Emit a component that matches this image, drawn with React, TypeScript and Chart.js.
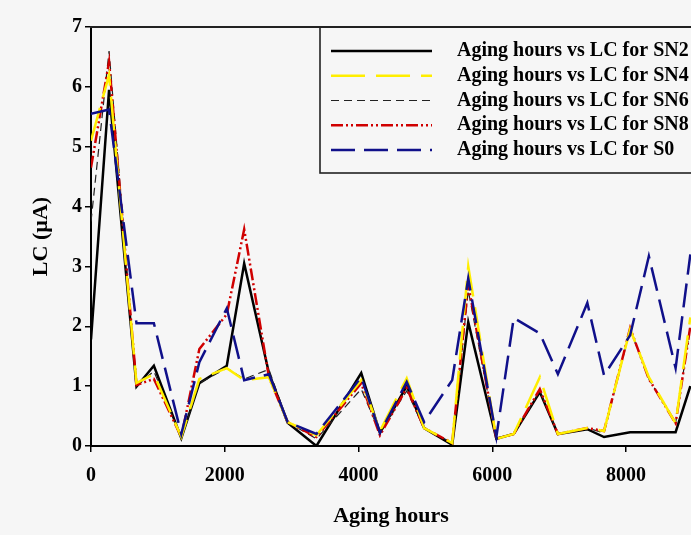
import React, { useEffect, useRef } from 'react';
import { Chart, registerables } from 'chart.js';

Chart.register(...registerables);

// ---- data ----
const hours = [0, 270, 680, 940, 1350, 1620, 2030, 2290, 2660, 2940, 3370, 4040, 4320, 4720, 4980, 5400, 5640, 6060, 6320, 6710, 6980, 7420, 7670, 8060, 8340, 8740, 8960];

const sn2 = [1.78, 5.95, 0.99, 1.34, 0.13, 1.05, 1.34, 3.05, 1.22, 0.39, 0.0, 1.22, 0.22, 1.0, 0.3, 0.02, 2.07, 0.12, 0.2, 0.9, 0.2, 0.28, 0.15, 0.23, 0.23, 0.23, 1.0];
const sn4 = [5.1, 6.2, 1.05, 1.2, 0.15, 1.12, 1.3, 1.1, 1.15, 0.4, 0.18, 1.1, 0.25, 1.13, 0.3, 0.05, 3.0, 0.12, 0.2, 1.15, 0.2, 0.3, 0.25, 1.95, 1.15, 0.38, 2.15];
const sn6 = [3.75, 6.6, 1.0, 1.25, 0.13, 1.05, 1.3, 1.12, 1.28, 0.4, 0.12, 0.95, 0.22, 0.92, 0.3, 0.05, 2.6, 0.12, 0.2, 0.92, 0.2, 0.3, 0.22, 1.95, 1.12, 0.38, 2.0];
const sn8 = [4.65, 6.42, 1.02, 1.12, 0.15, 1.62, 2.2, 3.62, 1.15, 0.4, 0.15, 1.05, 0.18, 0.97, 0.3, 0.05, 2.7, 0.12, 0.2, 0.95, 0.2, 0.3, 0.25, 1.97, 1.12, 0.38, 2.0];
const s0 = [5.55, 5.62, 2.05, 2.05, 0.2, 1.4, 2.3, 1.1, 1.2, 0.4, 0.2, 1.15, 0.22, 1.07, 0.4, 1.1, 2.8, 0.15, 2.14, 1.88, 1.2, 2.39, 1.18, 1.85, 3.17, 1.3, 3.2];

const seriesLabels = [
  'Aging hours vs LC for SN2',
  'Aging hours vs LC for SN4',
  'Aging hours vs LC for SN6',
  'Aging hours vs LC for SN8',
  'Aging hours vs LC for S0',
];

const xTicks = [0, 2000, 4000, 6000, 8000];
const yTicks = [0, 1, 2, 3, 4, 5, 6, 7];
const xTitle = 'Aging hours';
const yTitle = 'LC (µA)';

const FONT = '"Liberation Serif", "Times New Roman", serif';

const styles = [
  { color: '#000000', width: 2.5, dash: [] as number[], order: 4 },
  { color: '#ffee00', width: 2.5, dash: [34, 11], order: 1 },
  { color: '#222222', width: 1.2, dash: [8, 5], order: 3 },
  { color: '#d00000', width: 2.5, dash: [12, 3, 2, 3, 2, 3], order: 2 },
  { color: '#10108a', width: 2.5, dash: [24, 9], order: 0 },
];

const seriesValues = [sn2, sn4, sn6, sn8, s0];

const legendBoxPlugin = {
  id: 'legendBox',
  afterDraw(chart: any) {
    const { ctx, chartArea } = chart;
    ctx.save();
    // top frame line
    ctx.strokeStyle = '#222';
    ctx.lineWidth = 2;
    ctx.setLineDash([]);
    ctx.beginPath();
    ctx.moveTo(chartArea.left - 1, chartArea.top);
    ctx.lineTo(chartArea.right + 2, chartArea.top);
    ctx.stroke();

    // legend box
    const bx = 320;
    const by = chartArea.top;
    const bh = 146;
    ctx.lineWidth = 1.6;
    ctx.strokeStyle = '#222';
    ctx.strokeRect(bx, by, chart.width - bx + 5, bh);

    const rowH = 24.75;
    chart.data.datasets.forEach((ds: any, i: number) => {
      const y = by + 24 + i * rowH;
      ctx.strokeStyle = ds.borderColor;
      ctx.lineWidth = ds.borderWidth;
      ctx.setLineDash(ds.borderDash || []);
      ctx.beginPath();
      ctx.moveTo(331, y);
      ctx.lineTo(432, y);
      ctx.stroke();
      ctx.setLineDash([]);
      ctx.fillStyle = '#000';
      ctx.font = `bold 20px ${FONT}`;
      ctx.textBaseline = 'middle';
      ctx.textAlign = 'left';
      ctx.fillText(ds.label, 457, y);
    });
    ctx.restore();
  },
};

export default function App() {
  const ref = useRef<HTMLCanvasElement | null>(null);

  useEffect(() => {
    document.body.style.margin = '0';
    document.body.style.background = '#f6f6f6';
    const canvas = ref.current;
    if (!canvas) return;

    const datasets = seriesValues.map((vals, i) => ({
      label: seriesLabels[i],
      data: hours.map((h, j) => ({ x: h, y: vals[j] })),
      borderColor: styles[i].color,
      backgroundColor: styles[i].color,
      borderWidth: styles[i].width,
      borderDash: styles[i].dash,
      order: styles[i].order,
      pointRadius: 0,
      tension: 0,
      fill: false,
    }));

    const chart = new Chart(canvas, {
      type: 'line',
      data: { datasets },
      plugins: [legendBoxPlugin],
      options: {
        animation: false,
        responsive: false,
        maintainAspectRatio: false,
        devicePixelRatio: 1,
        layout: { padding: { top: 27, right: 0, bottom: 0, left: 0 } },
        plugins: {
          legend: { display: false },
          tooltip: { enabled: false },
        },
        scales: {
          x: {
            type: 'linear',
            min: 0,
            max: 8970,
            afterBuildTicks: (s: any) => {
              s.ticks = xTicks.map((v) => ({ value: v }));
            },
            afterFit: (s: any) => {
              s.height = 89;
            },
            ticks: {
              color: '#000',
              font: { family: FONT, size: 20, weight: 'bold' },
              padding: 12,
              maxRotation: 0,
              autoSkip: false,
              callback: (v: any) => String(v),
            },
            grid: {
              drawOnChartArea: false,
              drawTicks: true,
              tickLength: 6,
              color: '#000',
              lineWidth: 1.5,
            },
            border: { display: true, color: '#000', width: 2 },
            title: {
              display: true,
              text: xTitle,
              color: '#000',
              font: { family: FONT, size: 22, weight: 'bold' },
              padding: { top: 0, bottom: 5 },
            },
          },
          y: {
            type: 'linear',
            min: 0,
            max: 7,
            afterBuildTicks: (s: any) => {
              s.ticks = yTicks.map((v) => ({ value: v }));
            },
            afterFit: (s: any) => {
              s.width = 91;
            },
            ticks: {
              color: '#000',
              font: { family: FONT, size: 20, weight: 'bold' },
              padding: 3,
              callback: (v: any) => String(v),
            },
            grid: {
              drawOnChartArea: false,
              drawTicks: true,
              tickLength: 6,
              color: '#000',
              lineWidth: 1.5,
            },
            border: { display: true, color: '#000', width: 2 },
            title: {
              display: true,
              text: yTitle,
              color: '#000',
              font: { family: FONT, size: 22, weight: 'bold' },
              padding: { top: 28, bottom: 0 },
            },
          },
        },
      } as any,
    });

    return () => chart.destroy();
  }, []);

  return (
    <canvas
      ref={ref}
      width={691}
      height={535}
      style={{ display: 'block', width: '691px', height: '535px' }}
    />
  );
}
